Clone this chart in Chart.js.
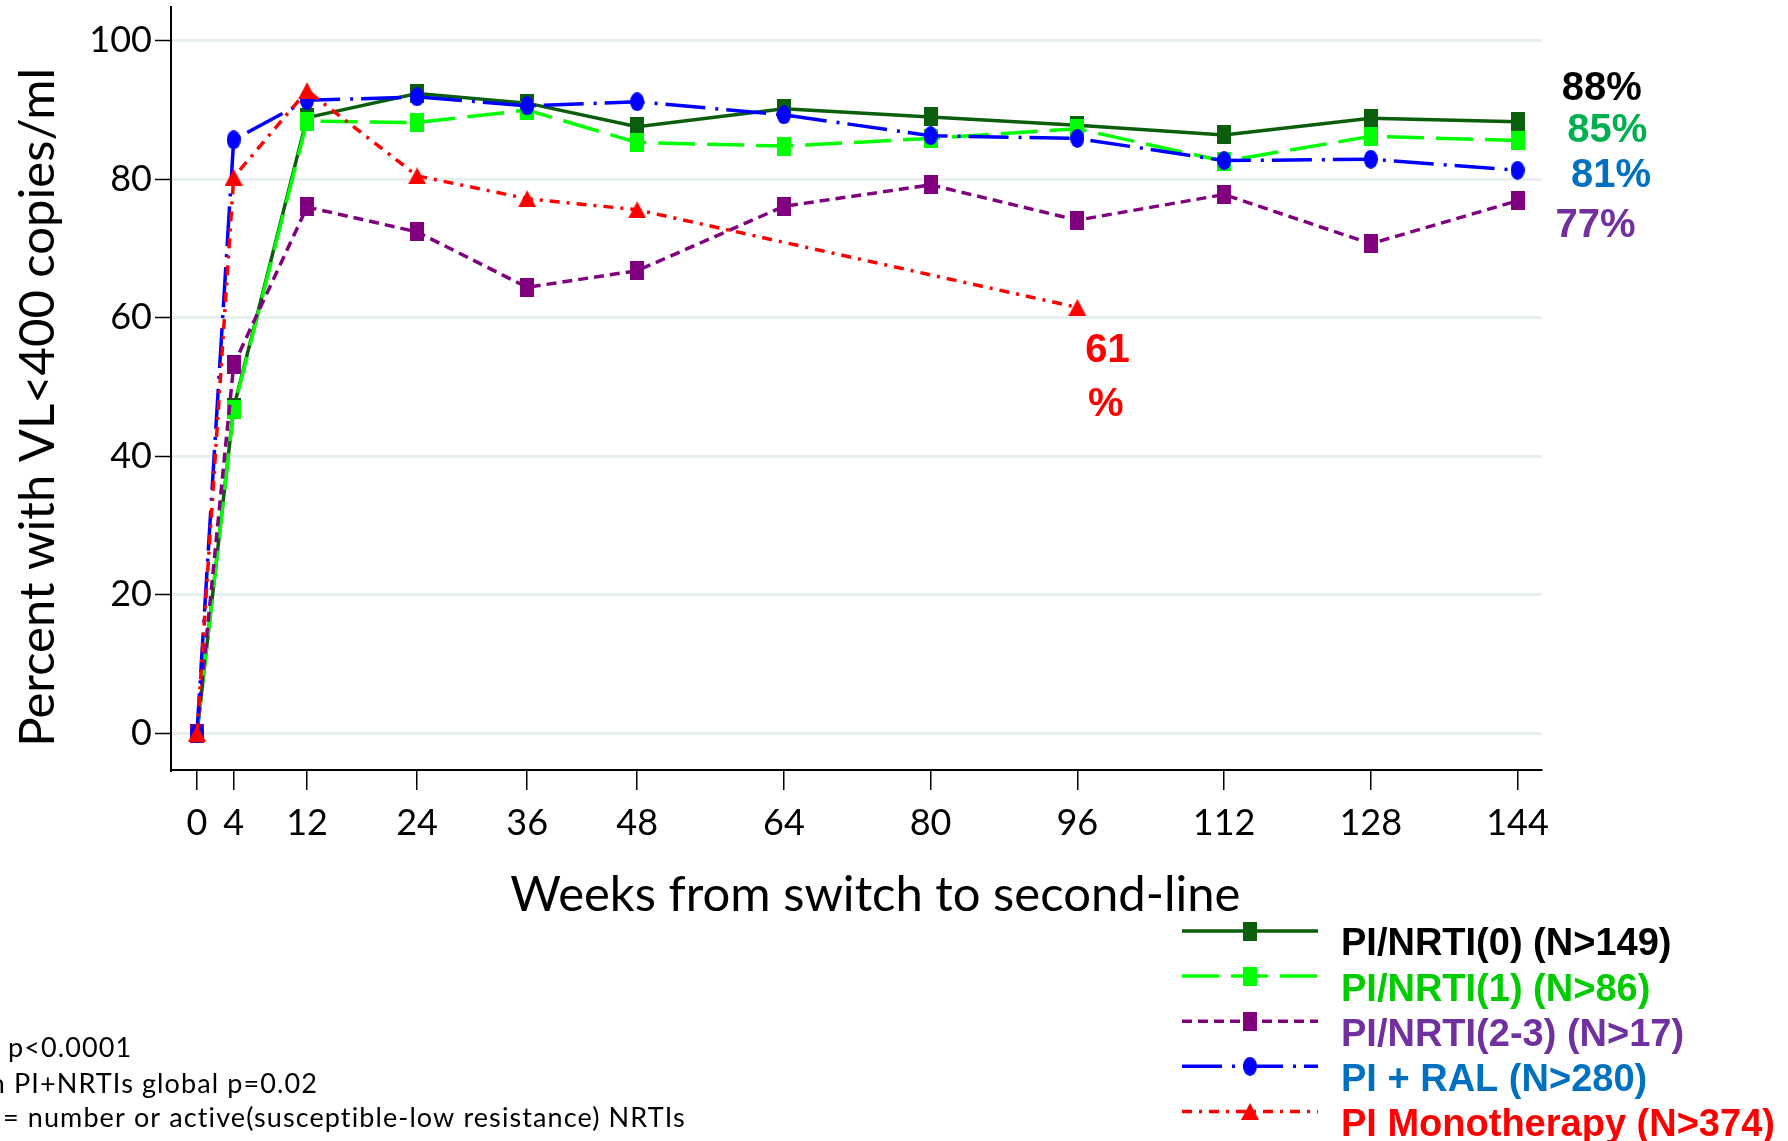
<!DOCTYPE html>
<html>
<head>
<meta charset="utf-8">
<script src="https://cdn.jsdelivr.net/npm/chart.js@4.4.0/dist/chart.umd.min.js"></script>
<style>
   html, body { margin: 0; padding: 0; background: #fff; }
   #wrap { width: 1788px; height: 1141px; }
</style>
</head>
<body>
<div id="wrap"><canvas id="vlChart" width="1788" height="1141"></canvas></div>
<script>
// Weeks where VL was measured
const weeks = [0, 4, 12, 24, 36, 48, 64, 80, 96, 112, 128, 144];
const monoWeeks = [0, 4, 12, 24, 36, 48, 96];
const xTicks = [0, 4, 12, 24, 36, 48, 64, 80, 96, 112, 128, 144];
const yTicks = [0, 20, 40, 60, 80, 100];

// Percent with VL<400 copies/ml per group
const nrti0 = [0, 47.0, 88.9, 92.4, 91.0, 87.6, 90.2, 89.0, 87.8, 86.4, 88.8, 88.3];
const nrti1 = [0, 46.8, 88.4, 88.2, 90.0, 85.3, 84.8, 85.9, 87.3, 82.6, 86.2, 85.6];
const nrti23 = [0, 53.2, 76.0, 72.4, 64.4, 66.8, 76.1, 79.2, 74.1, 77.8, 70.7, 76.9];
const ral = [0, 85.7, 91.4, 91.9, 90.6, 91.2, 89.3, 86.3, 85.9, 82.7, 82.9, 81.3];
const mono = [0, 80.3, 92.8, 80.5, 77.2, 75.6, 61.5];

const groupNames = ["PI/NRTI(0) (N>149)", "PI/NRTI(1) (N>86)", "PI/NRTI(2-3) (N>17)", "PI + RAL (N>280)", "PI Monotherapy (N>374)"];
const lineColors = ["#0b5e0b", "#00ff00", "#800080", "#0000ff", "#ff0000"];
const nameColors = ["#000000", "#00cc00", "#7030a0", "#0070c0", "#ff0000"];

// Percentages written at the end of the lines
const endLabels = ["88%", "85%", "81%", "77%"];
const endLabelColors = ["#000000", "#00b050", "#0070c0", "#7030a0"];
const endLabelAt = [[153.2, 93.1], [153.8, 87.0], [154.2, 80.5], [152.5, 73.3]]; // [week, percent]
const monoLabel = ["61", "%"];
const monoLabelAt = [[99.3, 55.2], [99.1, 47.4]];

const footnotes = ["p<0.0001", "PI+NRTIs global p=0.02", "= number or active(susceptible-low resistance) NRTIs"];

// small canvas markers (the originals are a bit taller than wide)
function markerImage(shape, color) {
   const c = document.createElement("canvas");
   const w = shape === "tri" ? 18 : 14;
   const h = shape === "tri" ? 17 : 19;
   c.width = w;
   c.height = h;
   const g = c.getContext("2d");
   g.fillStyle = color;
   g.beginPath();
   if (shape === "square") {
      g.rect(0, 0, w, h);
   } else if (shape === "oval") {
      g.ellipse(w / 2, h / 2, w / 2, h / 2, 0, 0, Math.PI * 2);
   } else {
      g.moveTo(w / 2, 0);
      g.lineTo(w, h);
      g.lineTo(0, h);
      g.closePath();
   }
   g.fill();
   return c;
}

function toPoints(xs, ys) {
   return xs.map((w, i) => ({ x: w, y: ys[i] }));
}

const seriesData = [toPoints(weeks, nrti0), toPoints(weeks, nrti1), toPoints(weeks, nrti23), toPoints(weeks, ral), toPoints(monoWeeks, mono)];
const markerShapes = ["square", "square", "square", "oval", "tri"];
const dashes = [[], [37, 12], [10, 6], [40, 10, 3, 8], [10, 7, 3, 7]];

const datasets = seriesData.map((pts, i) => ({
   label: groupNames[i],
   data: pts,
   borderColor: lineColors[i],
   backgroundColor: lineColors[i],
   borderWidth: 3.5,
   borderDash: dashes[i],
   pointStyle: markerImage(markerShapes[i], lineColors[i]),
   pointRadius: 9,
   tension: 0,
   fill: false,
   order: 4 - i
}));

// annotations, legend and footnotes drawn after the chart
const extrasPlugin = {
   id: "extras",
   afterDraw(chart) {
      const { ctx } = chart;
      const xs = chart.scales.x;
      const ys = chart.scales.y;
      ctx.save();

      ctx.font = 'bold 40px "Liberation Sans", Arial, sans-serif';
      ctx.textAlign = "center";
      ctx.textBaseline = "middle";
      endLabels.forEach((t, i) => {
         ctx.fillStyle = endLabelColors[i];
         ctx.fillText(t, xs.getPixelForValue(endLabelAt[i][0]), ys.getPixelForValue(endLabelAt[i][1]));
      });
      ctx.fillStyle = "#ff0000";
      monoLabel.forEach((t, i) => {
         ctx.fillText(t, xs.getPixelForValue(monoLabelAt[i][0]), ys.getPixelForValue(monoLabelAt[i][1]));
      });

      // legend
      const lx0 = 1182, lx1 = 1318, textX = 1341, top = 931, step = 45.1;
      chart.data.datasets.forEach((ds, i) => {
         const ly = top + i * step;
         ctx.strokeStyle = ds.borderColor;
         ctx.lineWidth = ds.borderWidth;
         ctx.setLineDash(ds.borderDash);
         ctx.beginPath();
         ctx.moveTo(lx0, ly);
         ctx.lineTo(lx1, ly);
         ctx.stroke();
         ctx.setLineDash([]);
         const img = ds.pointStyle;
         ctx.drawImage(img, (lx0 + lx1) / 2 - img.width / 2, ly - img.height / 2);
         ctx.font = 'bold 38px "Liberation Sans", Arial, sans-serif';
         ctx.textAlign = "left";
         ctx.fillStyle = nameColors[i];
         ctx.fillText(ds.label, textX, ly + 14);
      });

      // footnotes (cut at the left edge like the original slide)
      ctx.font = '27px Lato, "Open Sans", sans-serif';
      ctx.letterSpacing = "1.1px";
      ctx.fillStyle = "#000";
      ctx.textAlign = "left";
      ctx.fillText(footnotes[0], 8, 1048);
      const hidden = ctx.measureText("within ").width;
      ctx.fillText("within " + footnotes[1], 14 - hidden, 1084);
      ctx.fillText(footnotes[2], 3, 1118);
      ctx.restore();
   }
};

const ctx = document.getElementById("vlChart").getContext("2d");
new Chart(ctx, {
   type: "line",
   data: { datasets: datasets },
   plugins: [extrasPlugin],
   options: {
      responsive: false,
      animation: false,
      events: [],
      layout: { autoPadding: false, padding: { left: 0, top: 7, right: 246, bottom: 200 } },
      plugins: {
         legend: { display: false },
         tooltip: { enabled: false }
      },
      scales: {
         x: {
            type: "linear",
            min: -2.835,
            max: 146.67,
            afterBuildTicks: (scale) => { scale.ticks = xTicks.map(v => ({ value: v })); },
            afterFit: (scale) => { scale.height = 171; scale.paddingLeft = 0; scale.paddingRight = 0; },
            ticks: {
               autoSkip: false,
               maxRotation: 0,
               padding: 12,
               color: "#000",
               font: { family: "Lato", size: 36 }
            },
            grid: { drawOnChartArea: false, color: "#000", tickColor: "#000", tickLength: 20, lineWidth: 1.5 },
            border: { display: true, color: "#000", width: 2 },
            title: {
               display: true,
               text: "   Weeks from switch to second-line",
               color: "#000",
               font: { family: "Lato", size: 49 },
               padding: { top: 0, bottom: 16 }
            }
         },
         y: {
            min: -5.3,
            max: 104.88,
            afterBuildTicks: (scale) => { scale.ticks = yTicks.map(v => ({ value: v })); },
            afterFit: (scale) => { scale.width = 171; scale.paddingTop = 0; scale.paddingBottom = 0; },
            ticks: {
               padding: 3,
               color: "#000",
               font: { family: "Lato", size: 36 }
            },
            grid: { color: "#e8eff0", lineWidth: 3, tickColor: "#000", tickWidth: 1.5, tickLength: 16 },
            border: { display: true, color: "#000", width: 2 },
            title: {
               display: true,
               text: "Percent with VL<400 copies/ml   ",
               color: "#000",
               font: { family: "Lato", size: 49 },
               padding: { top: 9, bottom: 0 }
            }
         }
      }
   }
});
</script>
</body>
</html>
